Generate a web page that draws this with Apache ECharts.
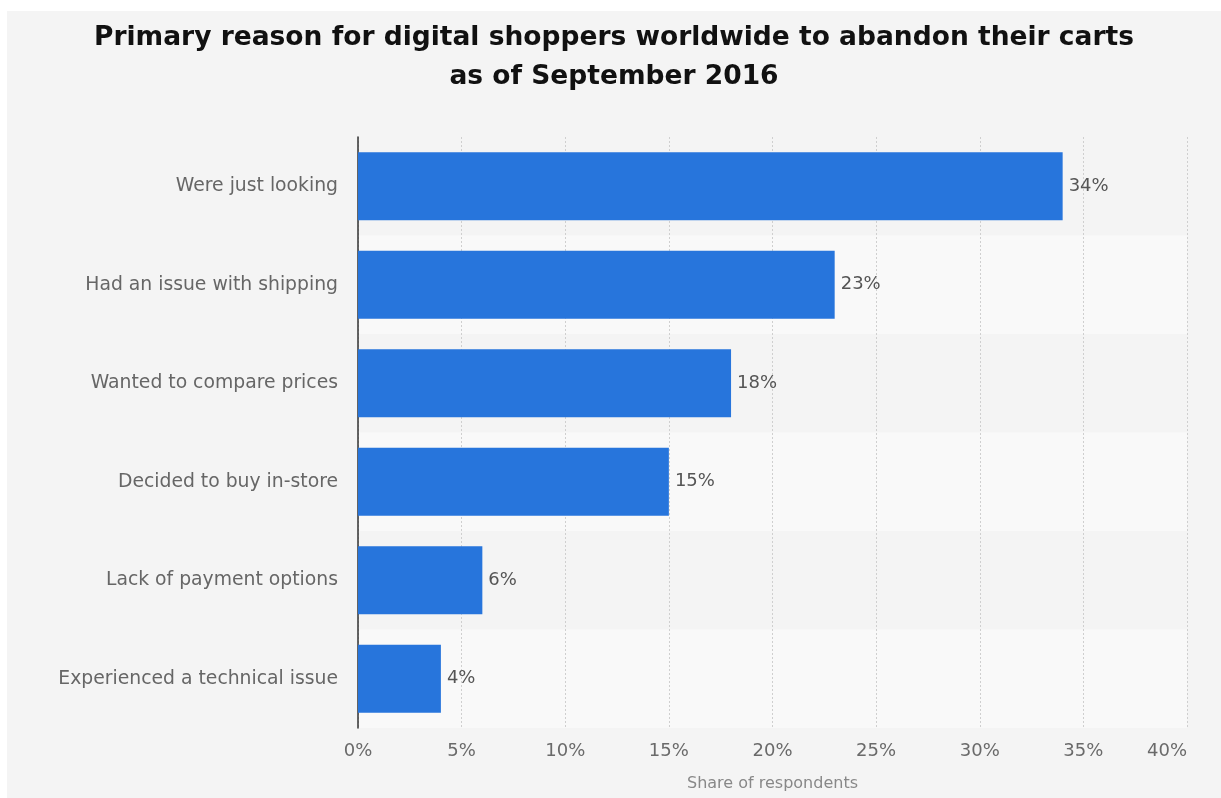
<!DOCTYPE html>
<html><head><meta charset="utf-8">
<script src="https://cdn.jsdelivr.net/npm/echarts@6/dist/echarts.min.js"></script>
<style>
html,body{margin:0;padding:0;background:#fff;width:1221px;height:798px;overflow:hidden}
#c{position:absolute;left:7px;top:11px;width:1214px;height:787px;background:#f4f4f4}
</style></head><body><div id="c"></div>
<script>
const categories = ["Were just looking","Had an issue with shipping","Wanted to compare prices","Decided to buy in-store","Lack of payment options","Experienced a technical issue"];
const values = [34, 23, 18, 15, 6, 4];
const titleText = "Primary reason for digital shoppers worldwide to abandon their carts\nas of September 2016";
const axisName = "Share of respondents";

const chart = echarts.init(document.getElementById('c'), null, {renderer:'canvas'});
chart.setOption({
  backgroundColor: '#f4f4f4',
  animation: false,
  title: {
    text: titleText, left: 'center', top: 3,
    textStyle: {fontFamily: 'DejaVu Sans', fontWeight: 'bold', fontSize: 26.5, color: '#111', lineHeight: 39, padding: [0, 0, 0, 9]}
  },
  grid: {left: 351, right: 34, top: 126, bottom: 70},
  xAxis: {
    type: 'value', min: 0, max: 40, interval: 5,
    name: axisName, nameLocation: 'middle', nameGap: 48,
    nameTextStyle: {fontFamily: 'DejaVu Sans', fontSize: 16, color: '#888'},
    axisLine: {show: false}, axisTick: {show: false},
    axisLabel: {formatter: '{value}%', fontFamily: 'DejaVu Sans', fontSize: 18, color: '#6a6a6a', margin: 14, alignMaxLabel: 'right'},
    splitLine: {show: true, lineStyle: {color: '#cfcfcf', type: [2, 2], width: 1}}
  },
  yAxis: {
    type: 'category', data: categories, inverse: true,
    axisLine: {show: true, lineStyle: {color: '#333', width: 1.5}},
    axisTick: {show: false},
    axisLabel: {fontFamily: 'DejaVu Sans', fontSize: 18.8, color: '#666', margin: 20},
    splitArea: {show: true, areaStyle: {color: ['#f4f4f4', '#f9f9f9']}}
  },
  series: [{
    type: 'bar', data: values, barCategoryGap: '31%',
    itemStyle: {color: '#2775dc'},
    label: {show: true, position: 'right', distance: 6, formatter: '{c}%', fontFamily: 'DejaVu Sans', fontSize: 18, color: '#555'}
  }]
});
</script></body></html>
